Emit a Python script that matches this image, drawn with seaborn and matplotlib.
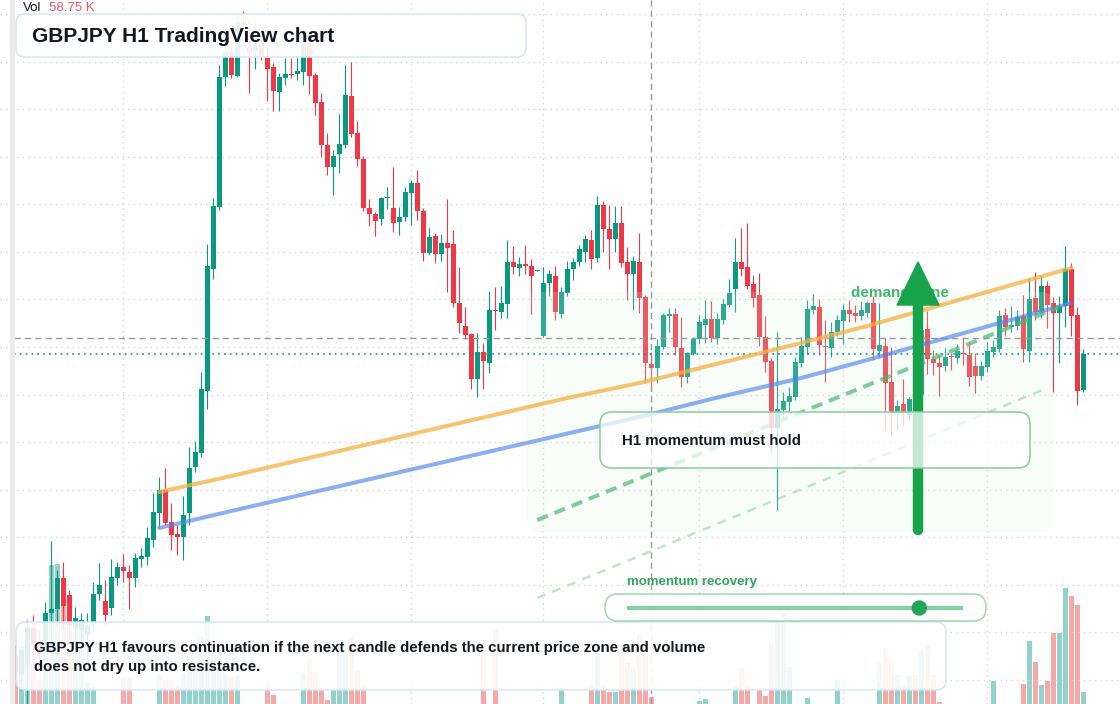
import numpy as np
import matplotlib
matplotlib.use("Agg")
import matplotlib.pyplot as plt
import matplotlib.patches as mpatches
import matplotlib.transforms as mtransforms
import seaborn as sns

# GBPJPY H1 candles
opens = [
    197.45, 197.25, 197.35, 197.72, 197.55, 197.60, 197.87, 197.91, 198.22, 198.05,
    197.72, 197.70, 197.65, 197.78, 198.06, 197.99, 197.92, 198.22, 198.33, 198.28,
    198.22, 198.41, 198.43, 198.60, 198.87, 199.10, 198.78, 198.66, 198.63, 198.87,
    199.33, 199.47, 200.09, 201.31, 201.93, 203.23, 203.48, 203.24, 203.78, 203.53,
    203.49, 203.57, 203.42, 203.33, 203.08, 203.22, 203.26, 203.26, 203.28, 203.57,
    203.25, 202.98, 202.55, 202.33, 202.46, 202.55, 203.04, 202.67, 202.41, 201.92,
    201.86, 201.81, 202.02, 201.92, 201.78, 201.83, 202.07, 202.17, 201.89, 201.47,
    201.64, 201.46, 201.57, 201.56, 200.97, 200.74, 200.66, 200.21, 200.48, 200.37,
    200.90, 200.88, 200.96, 201.38, 201.32, 201.36, 201.34, 201.29, 200.64, 201.17,
    201.24, 200.86, 201.07, 201.31, 201.38, 201.48, 201.60, 201.42, 201.95, 201.71,
    201.61, 201.77, 201.38, 201.26, 201.38, 201.03, 200.36, 200.32, 200.53, 200.84,
    200.86, 200.52, 200.23, 200.46, 200.61, 200.75, 200.81, 200.62, 200.80, 200.95,
    201.11, 201.38, 201.33, 201.16, 201.05, 200.63, 200.39, 199.72, 199.90, 199.98,
    200.03, 200.37, 200.53, 200.90, 200.93, 200.54, 200.52, 200.68, 200.79, 200.90,
    200.87, 200.84, 200.87, 200.97, 200.49, 200.54, 200.18, 199.87, 199.96, 199.85,
    200.15, 200.05, 200.71, 200.41, 200.37, 200.34, 200.44, 200.42, 200.47, 200.45,
    200.34, 200.24, 200.33, 200.48, 200.51, 200.85, 200.73, 200.74, 200.84, 200.49,
    201.02, 200.88, 201.14, 200.97, 200.87, 200.94, 201.31, 200.85, 200.10,
]
highs = [
    197.55, 197.60, 197.80, 197.85, 197.70, 197.98, 198.59, 198.30, 198.38, 198.10,
    197.93, 197.87, 197.87, 198.18, 198.37, 198.20, 198.41, 198.38, 198.46, 198.35,
    198.47, 198.52, 198.73, 199.07, 199.23, 199.32, 198.97, 198.75, 199.04, 199.53,
    199.59, 200.28, 201.56, 202.02, 203.35, 203.60, 203.55, 203.85, 203.89, 203.79,
    203.77, 203.65, 203.53, 203.37, 203.27, 203.42, 203.42, 203.42, 203.62, 203.70,
    203.27, 203.07, 202.67, 202.50, 202.86, 203.35, 203.38, 202.79, 202.44, 202.01,
    201.88, 202.03, 202.13, 202.33, 201.93, 202.13, 202.20, 202.30, 201.92, 201.72,
    201.67, 201.66, 202.01, 201.70, 201.33, 200.93, 200.67, 200.67, 200.57, 201.09,
    201.13, 201.14, 201.60, 201.54, 201.43, 201.55, 201.41, 201.30, 201.33, 201.30,
    201.34, 201.13, 201.39, 201.42, 201.55, 201.65, 201.70, 202.04, 201.99, 201.95,
    201.94, 201.94, 201.53, 201.44, 201.67, 201.05, 200.48, 200.61, 200.87, 200.92,
    200.92, 200.83, 200.48, 200.63, 200.85, 201.00, 200.99, 200.87, 201.01, 201.21,
    201.62, 201.72, 201.77, 201.25, 201.27, 200.84, 200.42, 200.68, 200.08, 200.13,
    200.43, 200.63, 201.00, 201.06, 201.01, 200.80, 200.78, 200.85, 200.96, 201.00,
    200.95, 200.99, 200.99, 201.04, 200.97, 200.62, 200.53, 200.00, 200.21, 200.03,
    200.22, 200.75, 200.89, 200.50, 200.45, 200.52, 200.47, 200.56, 200.62, 200.58,
    200.47, 200.39, 200.58, 200.60, 200.90, 200.92, 200.94, 200.90, 201.05, 201.22,
    201.28, 201.25, 201.19, 201.03, 201.04, 201.54, 201.37, 200.93, 200.51,
]
lows = [
    197.20, 197.10, 196.96, 197.40, 197.32, 197.50, 197.60, 197.75, 197.70, 197.60,
    197.60, 197.50, 197.40, 197.68, 198.00, 197.75, 197.85, 198.15, 198.18, 197.91,
    198.13, 198.33, 198.35, 198.53, 198.73, 198.75, 198.50, 198.45, 198.40, 198.75,
    199.28, 199.43, 199.91, 201.21, 201.90, 203.14, 203.22, 203.23, 203.70, 203.07,
    203.31, 203.40, 202.99, 202.89, 202.89, 203.15, 203.22, 203.20, 203.15, 203.06,
    202.85, 202.43, 202.25, 202.05, 202.27, 202.52, 202.63, 202.34, 201.89, 201.74,
    201.64, 201.75, 201.91, 201.68, 201.65, 201.79, 201.75, 201.80, 201.39, 201.45,
    201.37, 201.39, 201.08, 200.93, 200.67, 200.61, 200.11, 200.03, 200.11, 200.27,
    200.70, 200.82, 200.82, 201.26, 201.24, 201.26, 200.86, 201.29, 200.63, 201.04,
    200.80, 200.82, 201.04, 201.20, 201.34, 201.38, 201.31, 201.38, 201.48, 201.31,
    201.48, 201.33, 201.00, 200.90, 200.87, 200.17, 200.13, 200.17, 200.51, 200.68,
    200.45, 200.13, 200.17, 200.45, 200.56, 200.57, 200.58, 200.56, 200.76, 200.93,
    200.88, 201.24, 201.11, 200.93, 200.54, 200.28, 199.47, 198.90, 199.80, 199.88,
    200.00, 200.33, 200.46, 200.86, 200.45, 200.18, 200.43, 200.64, 200.56, 200.78,
    200.78, 200.80, 200.83, 200.40, 200.43, 199.70, 199.65, 199.70, 199.75, 199.80,
    199.85, 200.00, 200.26, 200.25, 200.04, 200.29, 200.30, 200.37, 200.35, 200.14,
    200.07, 200.20, 200.28, 200.43, 200.48, 200.64, 200.68, 200.70, 200.38, 200.38,
    200.80, 200.82, 200.72, 200.08, 200.37, 200.73, 200.64, 199.95, 200.08,
]
closes = [
    197.28, 197.50, 197.72, 197.55, 197.45, 197.87, 197.91, 198.22, 197.94, 197.75,
    197.82, 197.80, 197.75, 198.06, 198.15, 197.85, 198.23, 198.33, 198.29, 198.22,
    198.42, 198.44, 198.62, 198.88, 199.10, 198.77, 198.65, 198.63, 198.85, 199.32,
    199.48, 200.11, 201.34, 201.94, 203.23, 203.48, 203.25, 203.78, 203.76, 203.48,
    203.55, 203.44, 203.31, 203.09, 203.23, 203.26, 203.25, 203.29, 203.57, 203.24,
    202.97, 202.55, 202.33, 202.44, 202.56, 203.05, 202.66, 202.41, 201.92, 201.86,
    201.79, 202.02, 202.03, 201.77, 201.83, 202.08, 202.17, 201.89, 201.47, 201.63,
    201.46, 201.57, 201.52, 200.97, 200.77, 200.65, 200.21, 200.48, 200.39, 200.90,
    200.89, 200.97, 201.38, 201.33, 201.36, 201.34, 201.24, 201.30, 201.17, 201.26,
    200.88, 201.08, 201.31, 201.38, 201.51, 201.61, 201.41, 201.95, 201.71, 201.61,
    201.77, 201.37, 201.26, 201.39, 201.02, 200.37, 200.32, 200.54, 200.85, 200.86,
    200.53, 200.23, 200.47, 200.61, 200.78, 200.81, 200.62, 200.81, 200.96, 201.07,
    201.38, 201.31, 201.14, 201.02, 200.63, 200.38, 199.72, 199.91, 199.99, 200.04,
    200.38, 200.54, 200.91, 200.94, 200.55, 200.53, 200.68, 200.80, 200.90, 200.86,
    200.84, 200.90, 200.97, 200.51, 200.55, 200.17, 199.87, 199.94, 199.87, 200.01,
    199.95, 200.70, 200.41, 200.37, 200.33, 200.43, 200.43, 200.49, 200.46, 200.23,
    200.24, 200.34, 200.49, 200.53, 200.84, 200.73, 200.75, 200.83, 200.51, 201.01,
    200.88, 201.14, 200.95, 200.87, 200.94, 201.31, 200.84, 200.09, 200.46,
]
# volume in thousands
volumes = [
    185, 285, 390, 210, 120, 410, 695, 700, 545, 485,
    405, 405, 110, 85, 0, 0, 0, 0, 135, 135,
    0, 0, 0, 0, 145, 120, 120, 95, 155, 210,
    210, 335, 440, 295, 285, 145, 135, 145, 0, 0,
    0, 0, 105, 45, 0, 0, 0, 0, 155, 225,
    155, 80, 20, 70, 285, 285, 335, 170, 90, 0,
    0, 0, 0, 0, 0, 0, 0, 0, 0, 0,
    0, 0, 0, 0, 0, 0, 0, 0, 270, 0,
    370, 0, 0, 0, 0, 0, 0, 0, 0, 0,
    0, 80, 0, 0, 0, 0, 90, 255, 90, 60,
    60, 260, 205, 180, 350, 245, 35, 0, 0, 0,
    0, 0, 0, 0, 15, 25, 0, 0, 0, 0,
    85, 180, 90, 0, 80, 40, 300, 435, 455, 185,
    0, 0, 30, 0, 0, 0, 0, 120, 0, 0,
    0, 0, 0, 0, 205, 280, 205, 145, 90, 140,
    145, 270, 290, 145, 10, 0, 0, 0, 0, 0,
    0, 0, 0, 115, 0, 0, 0, 0, 100, 315,
    210, 95, 115, 355, 355, 580, 540, 495, 58.75,
]

# drawn trend lines (candle index, price)
resist_idx = [24, 36, 92, 104, 131, 142, 176]
resist_px = [199.08, 199.24, 200.02, 200.17, 200.57, 200.74, 201.32]
support_idx = [24, 36, 104, 116, 131, 142, 176]
support_px = [198.72, 198.89, 199.83, 200.01, 200.22, 200.40, 200.97]
channel_idx = [87, 174]
channel_px = [198.80, 200.93]
channel_low_idx = [87, 172]
channel_low_px = [198.02, 200.12]

zone_idx = (85.3, 172.95)
zone_px = (198.68, 201.08)
cross_idx = 106
cross_px = 200.62
last_px = closes[-1]
momentum_level = 0.87

grid_idx = [18, 42, 66, 88, 114, 138, 162]
grid_px = [203.86, 203.38, 202.91, 202.43, 201.96, 201.48, 201.01, 200.53,
           200.05, 199.58, 199.10, 198.63, 198.15, 197.68, 197.20]

sns.set_theme(style="white")
plt.rcParams["font.family"] = ["Liberation Sans", "DejaVu Sans"]

W, H = 1120, 704
UP, DOWN = "#089981", "#f23645"

idx = np.arange(len(opens))
o, hi, lo, c = map(np.array, (opens, highs, lows, closes))
rising = c >= o
colors = np.where(rising, UP, DOWN)
vol_colors = np.where(rising, "#26a69a", "#ef5350")

fig = plt.figure(figsize=(W / 100, H / 100), dpi=100)
ax_vol = fig.add_axes([0, 0, 1, 1])
ax = fig.add_axes([0, 0, 1, 1])
ax.set_facecolor("none")

xlim = (-15.3 / 6, (W - 15.3) / 6)
ax.set_xlim(xlim)
ax_vol.set_xlim(xlim)
ax.set_ylim(204 - H / 100, 204)
ax_vol.set_ylim(0, H * 5)
ax_vol.axis("off")

ax.set_xticks(grid_idx)
ax.set_yticks(grid_px)
ax.grid(True, color="#d4d4d4", linestyle=(0, (1, 3)), linewidth=1)
ax.tick_params(length=0, labelbottom=False, labelleft=False)
for s in ax.spines.values():
    s.set_visible(False)

# volume
ax_vol.bar(idx, volumes, width=0.85, color=vol_colors, alpha=0.5, linewidth=0)

# candles
ax.vlines(idx, lo, hi, colors=colors, linewidth=0.8, zorder=3)
ax.bar(idx, np.maximum(np.abs(c - o), 0.012), bottom=np.minimum(o, c), width=0.8,
       color=colors, linewidth=0, zorder=3)

# demand zone
zone = mpatches.FancyBboxPatch((zone_idx[0], zone_px[0]), zone_idx[1] - zone_idx[0],
                               zone_px[1] - zone_px[0],
                               boxstyle="round,pad=0,rounding_size=2", mutation_aspect=0.06,
                               facecolor="#dcf5e4", edgecolor="none", alpha=0.18, zorder=4)
ax.add_patch(zone)

# crosshair + last price
left = 14 / W
ax.axvline(cross_idx, color="#9a9a9a", linewidth=1, dashes=(4.5, 3), zorder=4.5)
ax.axhline(cross_px, xmin=left, color="#9a9a9a", linewidth=1, dashes=(4.5, 3), zorder=4.5)
ax.axhline(last_px, xmin=left, color=UP, linewidth=1.2, dashes=(1, 2.5), zorder=4.5)

# trend lines
sns.lineplot(x=resist_idx, y=resist_px, ax=ax, color="#f5b041", linewidth=2.9,
             alpha=0.75, sort=False, zorder=5)
sns.lineplot(x=support_idx, y=support_px, ax=ax, color="#4f84ec", linewidth=2.9,
             alpha=0.65, sort=False, zorder=5)
sns.lineplot(x=channel_idx, y=channel_px, ax=ax, color="#4cb872", linewidth=2.9,
             alpha=0.7, sort=False, zorder=5)
ax.lines[-1].set_dashes((2.8, 1.8))
sns.lineplot(x=channel_low_idx, y=channel_low_px, ax=ax, color="#9fdcb3", linewidth=1.8,
             alpha=0.7, sort=False, zorder=5)
ax.lines[-1].set_dashes((3.5, 3))

# overlay elements in pixel space (origin top-left)
px = mtransforms.Affine2D().scale(1, -1).translate(0, H)


def rbox(x0, y0, x1, y1, r, fc, ec, lw, alpha, z):
    p = mpatches.FancyBboxPatch((x0, y0), x1 - x0, y1 - y0,
                                boxstyle=f"round,pad=0,rounding_size={r}",
                                facecolor=matplotlib.colors.to_rgba(fc, alpha),
                                edgecolor=ec, linewidth=lw,
                                transform=px, zorder=z, clip_on=False)
    ax.add_patch(p)


ax.text(851, 293, "demand zone", transform=px, fontsize=11, fontweight="bold",
        color="#2fb15d", alpha=0.9, va="center", ha="left", zorder=6)

arrow = mpatches.FancyArrow(918, 530, 0, -268, width=9, head_width=42, head_length=43,
                            length_includes_head=True, color="#16a34a", transform=px,
                            zorder=7, clip_on=False)
ax.add_patch(arrow)
ax.add_patch(mpatches.Circle((918, 530), 4.5, color="#16a34a", transform=px, zorder=7))

rbox(600, 412, 1030, 468, 12, "white", "#86cf9d", 1.1, 0.75, 8)
ax.text(622, 441, "H1 momentum must hold", transform=px, fontsize=10.8, fontweight="bold",
        color="#131722", va="center", ha="left", zorder=9)

rbox(16, 14, 526, 57, 9, "white", "#d6e4fa", 1.1, 0.9, 8)
ax.text(32, 36, "GBPJPY H1 TradingView chart", transform=px, fontsize=15,
        fontweight="bold", color="#131722", va="center", ha="left", zorder=9)

rbox(16, 622, 946, 690, 10, "white", "#d6e4fa", 1.1, 0.88, 8)
ax.text(34, 648, "GBPJPY H1 favours continuation if the next candle defends the current "
        "price zone and volume", transform=px, fontsize=10.85, fontweight="bold",
        color="#131722", va="center", ha="left", zorder=9)
ax.text(34, 667, "does not dry up into resistance.", transform=px, fontsize=10.85,
        fontweight="bold", color="#131722", va="center", ha="left", zorder=9)

ax.text(627, 582, "momentum recovery", transform=px, fontsize=9.5, fontweight="bold",
        color="#2da55a", va="center", ha="left", zorder=9)
rbox(605, 594, 986, 621, 13, "white", "#9ad9ae", 1.1, 0.9, 8)
ax.plot([627, 963], [608, 608], transform=px, color="#86d0a0", linewidth=3,
        solid_capstyle="butt", zorder=9, clip_on=False)
knob_x = 627 + momentum_level * (963 - 627)
ax.add_patch(mpatches.Circle((knob_x, 608), 7, color="#22a55a", transform=px, zorder=10))

ax.text(23, 8, "Vol", transform=px, fontsize=9.5, color="#131722", va="center",
        ha="left", zorder=9)
ax.text(49, 8, f"{volumes[-1]:.2f} K", transform=px, fontsize=9.5, color="#f7525f",
        va="center", ha="left", zorder=9)

ax.add_patch(mpatches.Rectangle((10, 0), 4, H, color="#ebebeb", transform=px,
                                zorder=9, clip_on=False))

fig.savefig("out.png", dpi=100)
